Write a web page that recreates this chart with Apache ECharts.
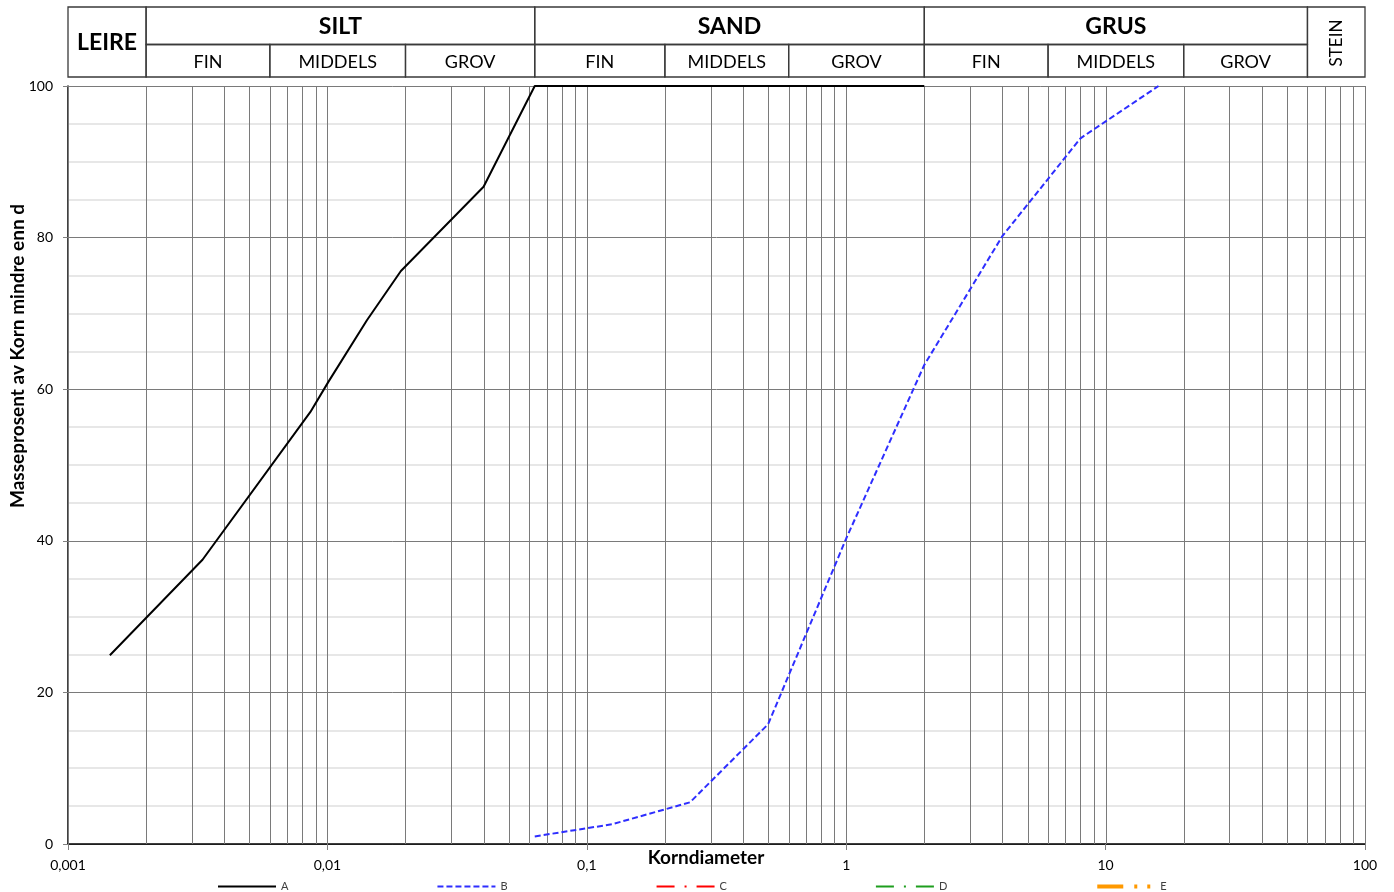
<!DOCTYPE html>
<html>
<head>
<meta charset="utf-8">
<title>Kornfordeling</title>
<script src="https://cdn.jsdelivr.net/npm/echarts@6/dist/echarts.min.js"></script>
<style>
html,body{margin:0;padding:0;background:#fff}
#chart{width:1394px;height:892px}
</style>
</head>
<body>
<div id="chart"></div>
<script>
// kornfordelingskurver, verdier lest av figuren
const seriesNames = ['A', 'B', 'C', 'D', 'E'];
const diaA = [0.00145, 0.0033, 0.0086, 0.0101, 0.0142, 0.0192, 0.04, 0.063, 2];
const passA = [24.9, 37.5, 57.0, 61.0, 69.1, 75.6, 86.7, 100, 100];
const diaB = [0.063, 0.125, 0.25, 0.5, 1, 2, 4, 8, 16];
const passB = [1.0, 2.6, 5.5, 15.8, 40.3, 63.2, 80.2, 93.1, 100];

// rutenett: 1..9 i hver dekade
const decades = [0.001, 0.01, 0.1, 1, 10];
const gridLines = [];
decades.forEach(d => { for (let m = 1; m <= 9; m++) gridLines.push(+(d * m).toPrecision(2)); });
gridLines.push(100);

// jordartsklasser i toppen
const mainClasses = ['LEIRE', 'SILT', 'SAND', 'GRUS', 'STEIN'];
const mainLimits = [[0.001, 0.002], [0.002, 0.063], [0.063, 2], [2, 60], [60, 100]];
const subClasses = ['FIN', 'MIDDELS', 'GROV', 'FIN', 'MIDDELS', 'GROV', 'FIN', 'MIDDELS', 'GROV'];
const subLimits = [[0.002, 0.006], [0.006, 0.02], [0.02, 0.063], [0.063, 0.2], [0.2, 0.6], [0.6, 2], [2, 6], [6, 20], [20, 60]];

const FONT = 'Lato, "Open Sans", sans-serif';

const headerCells = [];
mainClasses.forEach((name, i) => {
  const lim = mainLimits[i];
  const hasSub = subLimits.some(s => s[0] >= lim[0] && s[1] <= lim[1]);
  headerCells.push({ label: name, lim: lim, row: hasSub ? 0 : 2, main: true });
});
subClasses.forEach((name, i) => {
  headerCells.push({ label: name, lim: subLimits[i], row: 1, main: false });
});

function renderCell(params, api) {
  const cell = headerCells[params.dataIndex];
  const cs = params.coordSys;
  const x0 = api.coord([api.value(0), 0.5])[0];
  const x1 = api.coord([api.value(1), 0.5])[0];
  const split = cs.y + cs.height * 0.536;
  const top = cell.row === 1 ? split : cs.y;
  const bottom = cell.row === 0 ? split : cs.y + cs.height;
  const vertical = cell.label === 'STEIN';
  const text = {
    type: 'text',
    x: (x0 + x1) / 2,
    y: (top + bottom) / 2 + 1,
    rotation: vertical ? Math.PI / 2 : 0,
    style: {
      text: cell.label,
      align: 'center',
      verticalAlign: 'middle',
      fontFamily: FONT,
      fontSize: vertical ? 17 : (cell.main ? 23 : 18),
      fontWeight: cell.main && !vertical ? 'bold' : 'normal',
      fill: '#000'
    }
  };
  return {
    type: 'group',
    children: [
      { type: 'rect', shape: { x: x0, y: top, width: x1 - x0, height: bottom - top },
        style: { fill: 'none', stroke: '#3a3a3a', lineWidth: 1.3 } },
      text
    ]
  };
}

// loddrette rutenettlinjer gjennom aksens skala
function renderGridLine(params, api) {
  const p0 = api.coord([api.value(0), 0]);
  const p1 = api.coord([api.value(0), 100]);
  const x = Math.round(p0[0]) + 0.5;
  return {
    type: 'line',
    shape: { x1: x, y1: p0[1], x2: x, y2: p1[1] },
    style: { stroke: '#7a7a7a', lineWidth: 1 }
  };
}

const chart = echarts.init(document.getElementById('chart'));

const option = {
  animation: false,
  backgroundColor: '#fff',
  textStyle: { fontFamily: FONT },
  grid: [
    { left: 68, right: 29, top: 86, bottom: 48, outerBoundsMode: 'none' },
    { left: 68, right: 29, top: 7, height: 70, outerBoundsMode: 'none' }
  ],
  xAxis: [
    {
      type: 'log', logBase: 10, min: 0.001, max: 100, gridIndex: 0,
      axisLine: { lineStyle: { color: '#000', width: 1.5 } },
      axisTick: { show: true, length: 6, lineStyle: { color: '#808080' } },
      axisLabel: {
        margin: 14, fontSize: 14, color: '#000', fontFamily: FONT,
        showMinLabel: true, showMaxLabel: true,
        formatter: v => String(+(+v).toPrecision(3)).replace('.', ',')
      },
      splitLine: { show: false },
      minorTick: { show: false },
      minorSplitLine: { show: false }
    },
    {
      type: 'log', logBase: 10, min: 0.001, max: 100, gridIndex: 1, show: false
    }
  ],
  yAxis: [
    {
      type: 'value', min: 0, max: 100, interval: 20, gridIndex: 0,
      axisLine: { show: true, lineStyle: { color: '#000', width: 1.5 } },
      axisTick: { show: true, length: 5, lineStyle: { color: '#808080' } },
      axisLabel: { margin: 15, fontSize: 14, color: '#000', fontFamily: FONT },
      splitLine: { show: true, lineStyle: { color: '#7a7a7a', width: 1 } },
      minorTick: { show: false, splitNumber: 4 },
      minorSplitLine: { show: true, lineStyle: { color: '#e0e0e0', width: 1.5 } }
    },
    { type: 'value', min: 0, max: 1, gridIndex: 1, show: false }
  ],
  legend: {
    data: seriesNames,
    left: 212, top: 876,
    itemWidth: 58, itemHeight: 10, itemGap: 148,
    itemStyle: { opacity: 0 },
    lineStyle: { width: 'inherit' },
    textStyle: { fontSize: 11, color: '#404040', fontFamily: FONT },
    selectedMode: false
  },
  graphic: [
    {
      type: 'text', x: 18, y: 356, rotation: Math.PI / 2,
      style: { text: 'Masseprosent av Korn mindre enn d', align: 'center', verticalAlign: 'middle',
        fontFamily: FONT, fontSize: 19, fontWeight: 'bold', fill: '#000' }
    },
    {
      type: 'text', x: 706, y: 858,
      style: { text: 'Korndiameter', align: 'center', verticalAlign: 'middle',
        fontFamily: FONT, fontSize: 19, fontWeight: 'bold', fill: '#000' }
    }
  ],
  series: [
    {
      type: 'custom', xAxisIndex: 0, yAxisIndex: 0, silent: true, z: 1, clip: false,
      renderItem: renderGridLine,
      encode: { x: 0, y: 1 },
      data: gridLines.map(v => [v, 50])
    },
    {
      name: 'A', type: 'line', symbol: 'none', clip: false, z: 5,
      data: diaA.map((d, i) => [d, passA[i]]),
      itemStyle: { color: '#000' },
      lineStyle: { color: '#000', width: 2 }
    },
    {
      name: 'B', type: 'line', symbol: 'none', clip: false, z: 5,
      data: diaB.map((d, i) => [d, passB[i]]),
      itemStyle: { color: '#2e2eff' },
      lineStyle: { color: '#2e2eff', width: 2, type: [6, 3] }
    },
    {
      name: 'C', type: 'line', symbol: 'none', data: [],
      itemStyle: { color: '#ff0000' },
      lineStyle: { color: '#ff0000', width: 2, type: [18, 10, 2, 10] }
    },
    {
      name: 'D', type: 'line', symbol: 'none', data: [],
      itemStyle: { color: '#1e9e1e' },
      lineStyle: { color: '#1e9e1e', width: 2, type: [18, 10, 2, 10] }
    },
    {
      name: 'E', type: 'line', symbol: 'none', data: [],
      itemStyle: { color: '#ff9900' },
      lineStyle: { color: '#ff9900', width: 4, type: [26, 11, 3, 10, 3, 10] }
    },
    {
      type: 'custom', xAxisIndex: 1, yAxisIndex: 1, silent: true, clip: false,
      renderItem: renderCell,
      encode: { x: [0, 1], y: 2 },
      data: headerCells.map(c => [c.lim[0], c.lim[1], 0.5])
    }
  ]
};

chart.setOption(option);
window.addEventListener('resize', () => chart.resize());
</script>
</body>
</html>
